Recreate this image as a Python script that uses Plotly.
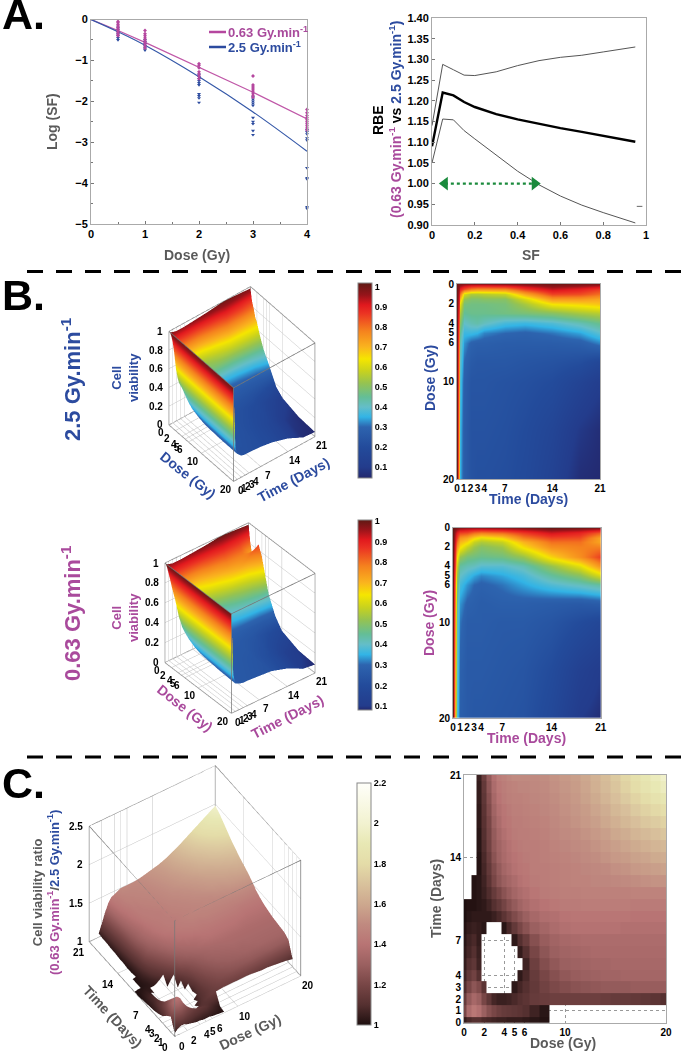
import plotly.graph_objects as go

W, H = 685, 1052
N = None

MAGENTA = '#a94a9c'
BLUE = '#2c4b9f'
GRAY = '#5a5a5a'
FONT = 'Liberation Sans'

# Panel A, survival
dose_a = [0, 0.5, 1, 2, 3, 4]
fit_low = [0, -0.27, -0.56, -1.16, -1.78, -2.43]
fit_high = [0, -0.30, -0.63, -1.40, -2.26, -3.22]
pts_low_x = [0.5] * 10 + [1] * 9 + [2] * 7 + [3] * 8 + [4] * 10
pts_low_y = [-0.05, -0.08, -0.12, -0.16, -0.2, -0.24, -0.28, -0.32, -0.36, -0.4,
             -0.27, -0.35, -0.4, -0.45, -0.5, -0.55, -0.6, -0.65, -0.7,
             -1.08, -1.12, -1.18, -1.28, -1.33, -1.38, -1.45,
             -1.38, -1.6, -1.65, -1.7, -1.75, -1.8, -1.85, -1.9,
             -2.2, -2.28, -2.35, -2.4, -2.45, -2.5, -2.55, -2.6, -2.65, -2.7]
pts_high_x = [0.5] * 7 + [1] * 6 + [2] * 10 + [3] * 10 + [4] * 10
pts_high_y = [-0.2, -0.25, -0.3, -0.35, -0.4, -0.45, -0.5,
              -0.5, -0.55, -0.6, -0.65, -0.7, -0.75,
              -1.35, -1.4, -1.45, -1.5, -1.55, -1.6, -1.82, -1.87, -1.92, -2.03,
              -1.9, -1.95, -2.0, -2.05, -2.1, -2.4, -2.5, -2.55, -2.72, -2.82,
              -2.7, -2.75, -2.8, -2.9, -2.95, -3.63, -3.87, -3.9, -4.58, -4.62]

# Panel A, RBE
sf = [0, 0.05, 0.1, 0.15, 0.2, 0.3, 0.4, 0.5, 0.6, 0.7, 0.8, 0.95]
rbe_mean = [1.09, 1.22, 1.213, 1.197, 1.185, 1.168, 1.155, 1.144, 1.134, 1.125, 1.116, 1.101]
rbe_upper = [1.14, 1.288, 1.275, 1.262, 1.261, 1.27, 1.285, 1.297, 1.305, 1.31, 1.318, 1.33]
rbe_lower = [1.05, 1.156, 1.154, 1.128, 1.108, 1.07, 1.03, 0.997, 0.97, 0.948, 0.93, 0.905]
arrow_sf = [0.06, 0.48]
arrow_rbe = [1.0, 1.0]
speck_sf = [0.97]
speck_rbe = [0.945]

# Panel B, viability grids (rows = dose, columns = time)
dose_b = [0, 0.5, 1, 1.5, 2, 3, 4, 5, 6, 8, 10, 15, 20]
time_b = [0, 0.25, 0.5, 1, 2, 3, 4, 7, 10, 14, 18, 21]
viab_high = [
    [1.00, .99, .98, .97, .96, .96, .96, .97, .98, 1.00, .99, .98],
    [1.00, .95, .90, .84, .78, .76, .76, .77, .86, .93, .90, .86],
    [1.00, .92, .80, .60, .55, .55, .56, .58, .72, .85, .84, .80],
    [1.00, .90, .70, .52, .49, .49, .50, .50, .60, .74, .74, .72],
    [1.00, .88, .62, .48, .47, .47, .47, .48, .54, .64, .66, .68],
    [1.00, .85, .55, .45, .46, .46, .46, .47, .48, .50, .54, .56],
    [1.00, .82, .50, .40, .42, .43, .41, .37, .36, .38, .42, .46],
    [1.00, .80, .45, .36, .36, .35, .32, .30, .29, .31, .34, .39],
    [1.00, .78, .42, .33, .29, .28, .28, .27, .27, .27, .28, .32],
    [1.00, .76, .40, .30, .26, .25, .25, .25, .24, .23, .21, .17],
    [1.00, .75, .38, .28, .24, .24, .24, .23, .22, .20, .15, .11],
    [1.00, .72, .36, .27, .23, .23, .23, .22, .20, .16, .09, .06],
    [1.00, .70, .35, .27, .23, .22, .22, .21, .19, .14, .06, .05],
]
viab_low = [
    [1.00, .99, .98, .97, .96, .96, .96, .97, .98, 1.00, .99, .98],
    [1.00, .95, .90, .85, .84, .80, .78, .80, .86, .92, .89, .82],
    [1.00, .93, .85, .75, .72, .66, .62, .66, .78, .85, .84, .72],
    [1.00, .92, .80, .70, .66, .58, .55, .58, .70, .80, .80, .72],
    [1.00, .90, .75, .65, .58, .53, .50, .53, .65, .76, .78, .78],
    [1.00, .87, .65, .52, .48, .47, .46, .47, .52, .66, .76, .86],
    [1.00, .85, .58, .44, .42, .41, .39, .39, .42, .52, .62, .76],
    [1.00, .82, .52, .40, .37, .34, .32, .34, .37, .44, .50, .60],
    [1.00, .80, .48, .37, .33, .30, .29, .31, .34, .38, .41, .44],
    [1.00, .78, .44, .33, .29, .28, .27, .28, .28, .27, .26, .27],
    [1.00, .76, .42, .31, .27, .27, .27, .26, .26, .24, .20, .17],
    [1.00, .73, .40, .29, .26, .26, .26, .25, .24, .20, .13, .10],
    [1.00, .72, .38, .28, .26, .25, .25, .24, .23, .18, .10, .085],
]

# Panel C, ratio grid (rows = time, columns = dose), None where the ratio is below 1
dose_c = [0, .5, 1, 1.5, 2, 2.5, 3, 3.5, 4, 4.5, 5, 5.5, 6, 7, 8, 9, 10, 11, 12, 13, 14, 15, 16, 17, 18, 19, 20]
time_c = list(range(22))
ratio = [
    [1.04, 1.08, 1.1, 1.1, 1.08, 1.07, 1.06, 1.05, 1.05, 1.04, 1.04, 1.04, 1.03, 1.02, 1.01, N, N, N, N, N, N, N, N, N, N, N, N],
    [1.2, 1.36, 1.42, 1.38, 1.3, 1.24, 1.2, 1.17, 1.15, 1.14, 1.13, 1.12, 1.1, 1.06, 1.02, N, N, N, N, N, N, N, N, N, N, N, N],
    [1.15, 1.28, 1.34, 1.3, 1.2, 1.13, 1.07, 1.05, 1.05, 1.06, 1.08, 1.1, 1.12, 1.15, 1.16, 1.17, 1.17, 1.17, 1.17, 1.17, 1.16, 1.15, 1.15, 1.14, 1.13, 1.12, 1.1],
    [1.09, 1.2, 1.26, 1.22, 1.12, N, N, N, N, N, 1.03, 1.07, 1.1, 1.14, 1.18, 1.21, 1.23, 1.25, 1.26, 1.27, 1.28, 1.28, 1.28, 1.29, 1.29, 1.29, 1.29],
    [1.06, 1.14, 1.18, 1.1, N, N, N, N, N, N, N, 1.03, 1.08, 1.15, 1.2, 1.24, 1.27, 1.29, 1.3, 1.31, 1.32, 1.32, 1.33, 1.33, 1.33, 1.33, 1.33],
    [1.04, 1.1, 1.13, 1.06, N, N, N, N, N, N, N, N, 1.06, 1.17, 1.23, 1.27, 1.3, 1.31, 1.32, 1.33, 1.33, 1.34, 1.34, 1.34, 1.34, 1.34, 1.34],
    [1.03, 1.07, 1.1, 1.05, N, N, N, N, N, N, N, 1.04, 1.1, 1.2, 1.26, 1.3, 1.32, 1.33, 1.34, 1.35, 1.35, 1.35, 1.35, 1.35, 1.35, 1.35, 1.35],
    [1.02, 1.06, 1.08, 1.04, N, N, N, N, N, N, 1.03, 1.1, 1.16, 1.24, 1.29, 1.32, 1.34, 1.35, 1.36, 1.36, 1.36, 1.36, 1.36, 1.36, 1.36, 1.36, 1.36],
    [1.01, 1.04, 1.05, 1.04, 1.02, N, N, N, 1.02, 1.08, 1.14, 1.2, 1.25, 1.3, 1.33, 1.36, 1.38, 1.39, 1.39, 1.39, 1.39, 1.39, 1.38, 1.38, 1.38, 1.38, 1.38],
    [1.0, 1.02, 1.03, 1.03, 1.03, 1.03, 1.05, 1.08, 1.12, 1.17, 1.22, 1.26, 1.3, 1.34, 1.37, 1.38, 1.4, 1.41, 1.41, 1.41, 1.41, 1.41, 1.41, 1.4, 1.4, 1.4, 1.4],
    [1.0, 1.01, 1.01, 1.02, 1.03, 1.06, 1.1, 1.14, 1.19, 1.24, 1.28, 1.32, 1.35, 1.38, 1.4, 1.42, 1.43, 1.43, 1.44, 1.44, 1.44, 1.44, 1.44, 1.43, 1.43, 1.43, 1.43],
    [N, N, 1.01, 1.02, 1.05, 1.09, 1.15, 1.2, 1.25, 1.29, 1.33, 1.36, 1.38, 1.41, 1.43, 1.44, 1.45, 1.45, 1.46, 1.46, 1.46, 1.46, 1.46, 1.47, 1.47, 1.47, 1.47],
    [N, N, 1.01, 1.02, 1.06, 1.12, 1.2, 1.26, 1.3, 1.33, 1.36, 1.39, 1.41, 1.43, 1.44, 1.45, 1.46, 1.47, 1.47, 1.48, 1.48, 1.49, 1.5, 1.51, 1.52, 1.53, 1.53],
    [N, N, N, 1.01, 1.07, 1.14, 1.22, 1.28, 1.33, 1.36, 1.39, 1.41, 1.42, 1.44, 1.44, 1.45, 1.46, 1.47, 1.48, 1.49, 1.5, 1.52, 1.53, 1.55, 1.56, 1.57, 1.58],
    [N, N, N, 1.01, 1.08, 1.16, 1.25, 1.31, 1.35, 1.38, 1.4, 1.42, 1.43, 1.44, 1.45, 1.46, 1.47, 1.48, 1.5, 1.51, 1.53, 1.55, 1.56, 1.58, 1.59, 1.61, 1.62],
    [N, N, N, 1.02, 1.09, 1.18, 1.27, 1.32, 1.36, 1.39, 1.42, 1.43, 1.44, 1.44, 1.45, 1.47, 1.48, 1.5, 1.51, 1.53, 1.55, 1.57, 1.59, 1.61, 1.63, 1.65, 1.66],
    [N, N, N, 1.02, 1.1, 1.19, 1.28, 1.34, 1.38, 1.41, 1.43, 1.44, 1.44, 1.45, 1.46, 1.48, 1.5, 1.51, 1.53, 1.55, 1.57, 1.6, 1.62, 1.65, 1.67, 1.69, 1.71],
    [N, N, N, 1.03, 1.11, 1.2, 1.3, 1.36, 1.4, 1.42, 1.44, 1.44, 1.45, 1.46, 1.47, 1.49, 1.51, 1.53, 1.55, 1.57, 1.6, 1.63, 1.66, 1.69, 1.72, 1.74, 1.76],
    [N, N, N, 1.03, 1.12, 1.22, 1.32, 1.38, 1.41, 1.43, 1.45, 1.45, 1.46, 1.47, 1.48, 1.5, 1.52, 1.54, 1.56, 1.59, 1.62, 1.66, 1.69, 1.73, 1.76, 1.79, 1.82],
    [N, N, N, 1.04, 1.13, 1.24, 1.34, 1.4, 1.43, 1.45, 1.46, 1.46, 1.47, 1.48, 1.49, 1.51, 1.53, 1.55, 1.58, 1.61, 1.65, 1.69, 1.73, 1.77, 1.81, 1.85, 1.88],
    [N, N, N, 1.04, 1.14, 1.26, 1.36, 1.42, 1.44, 1.46, 1.47, 1.48, 1.48, 1.49, 1.5, 1.52, 1.54, 1.56, 1.59, 1.63, 1.67, 1.71, 1.76, 1.81, 1.86, 1.9, 1.94],
    [N, N, N, 1.05, 1.16, 1.28, 1.38, 1.44, 1.46, 1.48, 1.5, 1.5, 1.5, 1.5, 1.51, 1.53, 1.55, 1.57, 1.6, 1.64, 1.68, 1.73, 1.78, 1.83, 1.88, 1.93, 1.98],
]

# colour ramps
jet_vals = [.045, .1, .2, .3, .35, .4, .45, .52, .58, .64, .7, .78, .87, .91, .96, 1.02]
jet_cols = ['#23286e', '#233c8c', '#234b9b', '#2d64af', '#32b4e6', '#64bec8', '#64be96', '#96c350',
            '#c8d21e', '#f5e600', '#fab41e', '#f5821e', '#eb3223', '#e1191e', '#96141a', '#5f1914']
pink_vals = [1.0, 1.1, 1.2, 1.3, 1.4, 1.5, 1.6, 1.7, 1.8, 1.9, 2.0, 2.2]
pink_cols = ['#1e0f0f', '#553030', '#784646', '#9b6060', '#b87474', '#c08a80', '#cda88e', '#d9c29c',
             '#e4dca8', '#e8e8b4', '#f2f2d0', '#fffffa']

dose_ticks = [0, 2, 4, 5, 6, 10, 20]
time_ticks = [0, 1, 2, 3, 4, 7, 14, 21]
viab_ticks = [0, .2, .4, .6, .8, 1]
ratio_ticks = [1, 1.5, 2, 2.5]


def fx(p):
    return p / W


def fy(p):
    return 1 - p / H


def ramp(vals, cols, lo, hi):
    out = []
    for v, c in zip(vals, cols):
        t = (v - lo) / (hi - lo)
        out.append([max(0, min(1, t)), c])
    out[0][0] = 0
    out[-1][0] = 1
    return out


def bar(x, top, bottom, vals):
    return dict(x=fx(x), xanchor='left', xpad=0, y=fy(top), yanchor='top', ypad=0,
                lenmode='pixels', len=bottom - top, thicknessmode='pixels', thickness=14,
                outlinecolor='#888', outlinewidth=1, tickvals=vals, ticks='',
                tickfont=dict(family=FONT, size=9, color='black', weight='bold'))


fig = go.Figure()

# A left
fig.add_trace(go.Scatter(x=dose_a, y=fit_low, mode='lines', line=dict(color='#c058a8', width=1.2),
                         xaxis='x', yaxis='y', showlegend=False))
fig.add_trace(go.Scatter(x=dose_a, y=fit_high, mode='lines', line=dict(color='#3558a8', width=1.2, shape='spline'),
                         xaxis='x', yaxis='y', showlegend=False))
fig.add_trace(go.Scatter(x=pts_high_x, y=pts_high_y, mode='markers', xaxis='x', yaxis='y', showlegend=False,
                         cliponaxis=False, marker=dict(symbol='triangle-down', size=3.5, color=BLUE)))
fig.add_trace(go.Scatter(x=pts_low_x, y=pts_low_y, mode='markers', xaxis='x', yaxis='y', showlegend=False,
                         cliponaxis=False, marker=dict(symbol='diamond', size=3, color='#b5479f')))

# A right
for vals, wd, col in [(rbe_upper, 1, '#555'), (rbe_lower, 1, '#555'), (rbe_mean, 2.4, 'black')]:
    fig.add_trace(go.Scatter(x=sf, y=vals, mode='lines', line=dict(color=col, width=wd),
                             xaxis='x2', yaxis='y2', showlegend=False))
fig.add_trace(go.Scatter(x=arrow_sf, y=arrow_rbe, mode='lines+markers', xaxis='x2', yaxis='y2', showlegend=False,
                         line=dict(color='#1a8a3c', width=2.4, dash='dot'),
                         marker=dict(symbol=['triangle-left', 'triangle-right'], size=12, color='#1a8a3c')))
fig.add_trace(go.Scatter(x=speck_sf, y=speck_rbe, mode='markers', xaxis='x2', yaxis='y2', showlegend=False,
                         marker=dict(symbol='line-ew', size=4, line=dict(color='#666', width=1))))

# B and C heat maps with their colour bars
jet_high = ramp(jet_vals, jet_cols, .045, 1.02)
jet_low = ramp(jet_vals, jet_cols, .08, 1.005)
pink = ramp(pink_vals, pink_cols, 1, 2.2)
cb_ticks = [.1, .2, .3, .4, .5, .6, .7, .8, .9, 1]
fig.add_trace(go.Heatmap(x=time_b, y=dose_b, z=viab_high, xaxis='x3', yaxis='y3', zsmooth='best',
                         zmin=.045, zmax=1.02, colorscale=jet_high, colorbar=bar(358, 283, 478, cb_ticks)))
fig.add_trace(go.Heatmap(x=time_b, y=dose_b, z=viab_low, xaxis='x4', yaxis='y4', zsmooth='best',
                         zmin=.08, zmax=1.005, colorscale=jet_low, colorbar=bar(358, 520, 710, cb_ticks)))
fig.add_trace(go.Heatmap(x=dose_c, y=time_c, z=ratio, xaxis='x5', yaxis='y5', zsmooth=False, hoverongaps=False,
                         zmin=1, zmax=2.2, colorscale=pink,
                         colorbar=bar(357, 783, 1025, [1, 1.2, 1.4, 1.6, 1.8, 2, 2.2])))

# 3D surfaces
flat = dict(ambient=1, diffuse=0, specular=0, roughness=1, fresnel=0)
fig.add_trace(go.Surface(x=dose_b, y=time_b, z=[list(c) for c in zip(*viab_high)], scene='scene', showscale=False,
                         cmin=.045, cmax=1.02, colorscale=jet_high, lighting=flat))
fig.add_trace(go.Surface(x=dose_b, y=time_b, z=[list(c) for c in zip(*viab_low)], scene='scene2', showscale=False,
                         cmin=.08, cmax=1.005, colorscale=jet_low, lighting=flat))
fig.add_trace(go.Surface(x=dose_c, y=time_c, z=ratio, scene='scene3', showscale=False,
                         cmin=1, cmax=2.2, colorscale=pink, lighting=flat))


def add_box(scene_id, xr, yr, zr):
    # wire frame of the plot box
    a, b = xr
    c, d = yr
    e, f = zr
    xs = [a, b, b, a, a, N, a, b, b, a, a, N, a, a, N, b, b, N, b, b, N, a, a]
    ys = [c, c, d, d, c, N, c, c, d, d, c, N, c, c, N, c, c, N, d, d, N, d, d]
    zs = [e, e, e, e, e, N, f, f, f, f, f, N, e, f, N, e, f, N, e, f, N, e, f]
    fig.add_trace(go.Scatter3d(x=xs, y=ys, z=zs, mode='lines', scene=scene_id, hoverinfo='skip',
                               showlegend=False, line=dict(color='#777', width=1.5)))


add_box('scene', [0, 20], [0, 21], [0, 1])
add_box('scene2', [0, 20], [0, 21], [0, 1])
add_box('scene3', [0, 20], [0, 21], [1, 2.5])


def axis_2d(box, side, **kw):
    lo, hi = box
    ax = dict(domain=[fx(lo) if side == 'x' else fy(hi), fx(hi) if side == 'x' else fy(lo)],
              showgrid=False, zeroline=False, showline=True, linecolor='#aaa', linewidth=1, mirror=True,
              ticks='inside', ticklen=3, tickcolor='#777', tickangle=0,
              tickfont=dict(family=FONT, size=11, color='black', weight='bold'))
    ax.update(kw)
    return ax


def axis_3d(rng, vals):
    return dict(range=rng, tickvals=vals, showticklabels=False, title=dict(text=''),
                showbackground=False, showspikes=False, zeroline=False, showgrid=True,
                gridcolor='#c0c0c0', gridwidth=1, showline=False, ticks='')


def tick_note(x, y, z, text, dx, dy, anchor='center'):
    return dict(x=x, y=y, z=z, text=str(text), showarrow=False, xshift=dx, yshift=-dy, xanchor=anchor,
                font=dict(family=FONT, size=10, color='black', weight='bold'))


def scene(box, aspect, eye, x, y, z, notes3d):
    left, top, right, bottom = box
    return dict(domain=dict(x=[fx(left), fx(right)], y=[fy(bottom), fy(top)]),
                aspectmode='manual', aspectratio=dict(x=aspect[0], y=aspect[1], z=aspect[2]),
                camera=dict(eye=dict(x=eye[0], y=eye[1], z=eye[2]), up=dict(x=0, y=0, z=1),
                            center=dict(x=0, y=0, z=0), projection=dict(type='orthographic')),
                xaxis=x, yaxis=y, zaxis=z, annotations=notes3d)


def b_labels():
    out = [tick_note(0, 0, v, v, -4, 0, 'right') for v in viab_ticks]
    out += [tick_note(d, 0, 0, d, -8, 8) for d in dose_ticks]
    out += [tick_note(20, t, 0, t, 7, 9) for t in time_ticks]
    return out


def c_labels():
    out = [tick_note(0, 21, v, v, -4, 0, 'right') for v in ratio_ticks]
    out += [tick_note(d, 0, 1, d, 7, 10) for d in dose_ticks]
    out += [tick_note(0, t, 1, t, -10, 11) for t in time_ticks]
    return out


hm_font = dict(family=FONT, size=10, color='black', weight='bold')
layout_axes = dict(
    xaxis=axis_2d((91, 307), 'x', anchor='y', range=[0, 4], tickvals=[0, 1, 2, 3, 4],
                  minor=dict(tickvals=[.5, 1.5, 2.5, 3.5], ticks='inside', ticklen=2, tickcolor='#777')),
    yaxis=axis_2d((19.5, 224), 'y', anchor='x', range=[-5, 0], tickvals=[-5, -4, -3, -2, -1, 0],
                  minor=dict(tickvals=[-4.5, -3.5, -2.5, -1.5, -.5], ticks='inside', ticklen=2, tickcolor='#777')),
    xaxis2=axis_2d((432, 646), 'x', anchor='y2', range=[0, 1], tickvals=[0, .2, .4, .6, .8, 1],
                   ticktext=['0', '0.2', '0.4', '0.6', '0.8', '1']),
    yaxis2=axis_2d((18, 225), 'y', anchor='x2', range=[.9, 1.4],
                   tickvals=[.9, .95, 1, 1.05, 1.1, 1.15, 1.2, 1.25, 1.3, 1.35, 1.4], tickformat='.2f'),
    xaxis3=axis_2d((457, 600), 'x', anchor='y3', range=[0, 21], tickvals=time_ticks, ticks=''),
    yaxis3=axis_2d((284, 479), 'y', anchor='x3', range=[20, 0], tickvals=dose_ticks, ticks=''),
    xaxis4=axis_2d((453, 600.7), 'x', anchor='y4', range=[0, 21], tickvals=time_ticks, ticks=''),
    yaxis4=axis_2d((527.7, 718), 'y', anchor='x4', range=[20, 0], tickvals=dose_ticks, ticks=''),
    xaxis5=axis_2d((464, 666), 'x', anchor='y5', range=[0, 20], tickvals=dose_ticks, ticks=''),
    yaxis5=axis_2d((775, 1022.7), 'y', anchor='x5', range=[0, 21], tickvals=time_ticks, ticks=''),
)
for k in ['xaxis3', 'yaxis3', 'xaxis4', 'yaxis4', 'xaxis5', 'yaxis5']:
    layout_axes[k]['tickfont'] = hm_font
for k in ['xaxis5', 'yaxis5']:
    layout_axes[k].update(showgrid=True, gridcolor='#999', griddash='dot', gridwidth=1)

notes = []


def note(text, x, y, size=14, color=GRAY, angle=0, xanchor='center', bold=True):
    notes.append(dict(text=text, x=fx(x), y=fy(y), xref='paper', yref='paper', showarrow=False, textangle=angle,
                      xanchor=xanchor, yanchor='middle',
                      font=dict(family=FONT, size=size, color=color, weight='bold' if bold else 'normal')))


sup = '<sup>-1</sup>'
note('A.', 0, 14, 43, 'black', xanchor='left')
note('B.', 0, 295, 43, 'black', xanchor='left')
note('C.', 0, 783, 43, 'black', xanchor='left')

note('Log (SF)', 52, 122, angle=-90)
note('Dose (Gy)', 197, 255)
note('SF', 531, 255)
note('0.63 Gy.min' + sup, 226, 32, 13, MAGENTA, xanchor='left')
note('2.5 Gy.min' + sup, 226, 47, 13, BLUE, xanchor='left')
note('RBE', 378, 120, 14, 'black', -90)
note('<span style="color:%s">(0.63 Gy.min%s</span> vs <span style="color:%s">2.5 Gy.min%s)</span>'
     % (MAGENTA, sup, BLUE, sup), 395, 120, 14, 'black', -90)

note('2.5 Gy.min' + sup, 71, 379, 22, BLUE, -90)
note('Cell<br>viability', 125, 378, 13, BLUE, -90)
note('Dose (Gy)', 188, 475, 14, BLUE, 38)
note('Time (Days)', 293, 480, 14, BLUE, -28)
note('Dose (Gy)', 430, 378, 14, BLUE, -90)
note('Time (Days)', 528, 499, 14, BLUE)

note('0.63 Gy.min' + sup, 71, 613, 22, MAGENTA, -90)
note('Cell<br>viability', 125, 618, 13, MAGENTA, -90)
note('Dose (Gy)', 185, 708, 14, MAGENTA, 38)
note('Time (Days)', 287, 717, 14, MAGENTA, -27)
note('Dose (Gy)', 429, 623, 14, MAGENTA, -90)
note('Time (Days)', 526, 738, 14, MAGENTA)

note('Cell viability ratio<br><span style="color:%s">(0.63 Gy.min%s</span>/<span style="color:%s">2.5 Gy.min%s)</span>'
     % (MAGENTA, sup, BLUE, sup), 46, 893, 13, GRAY, -90)
note('Time (Days)', 113, 1017, 14, GRAY, 47)
note('Dose (Gy)', 250, 1032, 14, GRAY, -25)
note('Time (Days)', 436, 899, 14, GRAY, -90)
note('Dose (Gy)', 563, 1043, 14, GRAY)

shapes = [
    dict(type='line', xref='paper', yref='paper', x0=fx(27), x1=1, y0=fy(271.5), y1=fy(271.5),
         line=dict(color='black', width=3, dash='16px,13px')),
    dict(type='line', xref='paper', yref='paper', x0=fx(27), x1=1, y0=fy(757), y1=fy(757),
         line=dict(color='black', width=3, dash='16px,13px')),
    dict(type='line', xref='paper', yref='paper', x0=fx(209), x1=fx(226), y0=fy(32), y1=fy(32),
         line=dict(color='#b5479f', width=2.5)),
    dict(type='line', xref='paper', yref='paper', x0=fx(209), x1=fx(226), y0=fy(47), y1=fy(47),
         line=dict(color=BLUE, width=2.5)),
]

fig.update_layout(
    width=W, height=H, autosize=False, margin=dict(l=0, r=0, t=0, b=0, autoexpand=False),
    paper_bgcolor='white', plot_bgcolor='white', showlegend=False,
    font=dict(family=FONT),
    annotations=notes, shapes=shapes,
    scene=scene((137, 280, 347, 488), (1, 1, 1.25), (.565, -.448, .694),
                axis_3d([0, 20], dose_ticks), axis_3d([0, 21], time_ticks), axis_3d([0, 1], viab_ticks), b_labels()),
    scene2=scene((135, 511, 345, 725), (1, 1, 1.17), (.622, -.494, .606),
                 axis_3d([0, 20], dose_ticks), axis_3d([0, 21], time_ticks), axis_3d([0, 1], viab_ticks), b_labels()),
    scene3=scene((60, 750, 330, 1052), (1, 1.03, 1.12), (-.376, -.571, .729),
                 axis_3d([0, 20], dose_ticks), axis_3d([0, 21], time_ticks), axis_3d([1, 2.5], ratio_ticks), c_labels()),
    **layout_axes,
)

fig.write_html("out.html", config=dict(displayModeBar=False), post_script="document.body.style.margin='0';")
